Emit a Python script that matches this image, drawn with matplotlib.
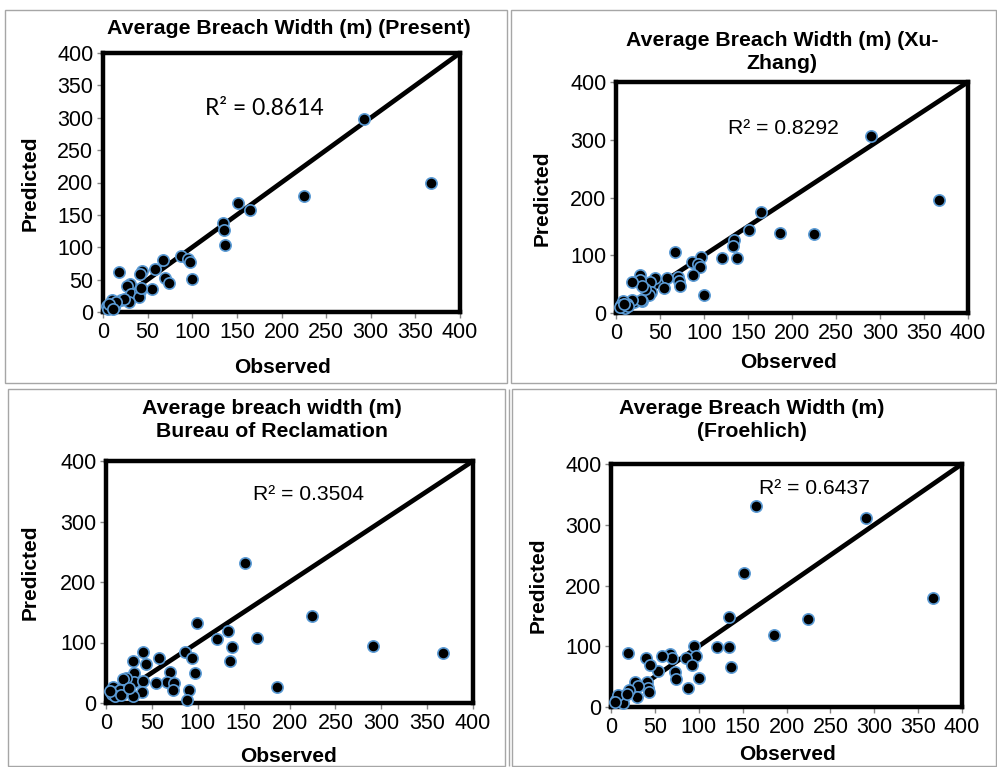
import matplotlib
matplotlib.use("Agg")
import matplotlib.pyplot as plt
from matplotlib.patches import Rectangle

plt.rcParams['font.family'] = ['Liberation Sans', 'DejaVu Sans']

# ---------------- data ----------------
obs_present = [292, 367, 225, 151, 165, 134, 136, 137, 87, 95, 98, 100, 67, 70, 74, 58, 44, 41, 55, 18,
               30, 27, 31, 41, 40, 43, 29, 20, 23, 10, 13, 4, 8, 12, 6, 15, 7, 11]
pred_present = [298, 199, 179, 169, 158, 137, 126, 104, 87, 82, 77, 51, 80, 53, 45, 67, 64, 58, 35, 62,
                44, 40, 28, 32, 23, 37, 15, 18, 20, 19, 12, 10, 8, 7, 5, 15, 12, 4]

obs_xu = [290, 367, 165, 151, 186, 225, 134, 133, 137, 120, 67, 97, 86, 93, 95, 88, 100, 70, 72, 73, 58,
          55, 44, 39, 40, 37, 33, 27, 27, 29, 18, 29, 20, 28, 18, 12, 8, 6, 10, 5, 14, 9]
pred_xu = [306, 195, 175, 143, 138, 137, 127, 116, 95, 95, 106, 97, 89, 84, 80, 65, 32, 62, 55, 47, 61,
           43, 60, 54, 36, 31, 42, 65, 57, 47, 54, 20, 19, 22, 22, 16, 20, 13, 8, 10, 12, 15]

obs_usbr = [151, 225, 291, 367, 186, 165, 99, 121, 133, 137, 135, 86, 94, 97, 91, 88, 58, 70, 67, 74, 73,
            54, 40, 44, 29, 30, 30, 40, 39, 29, 22, 18, 20, 8, 6, 12, 15, 10, 16, 4, 25]
pred_usbr = [232, 144, 94, 83, 26, 108, 133, 106, 119, 92, 70, 84, 74, 49, 21, 5, 74, 51, 35, 33, 22,
             33, 84, 65, 69, 49, 35, 36, 19, 11, 42, 40, 21, 26, 15, 18, 21, 12, 14, 20, 25]

obs_fro = [165, 291, 367, 151, 225, 186, 134, 121, 135, 137, 95, 97, 86, 92, 100, 88, 67, 70, 58, 73, 74,
           54, 19, 40, 44, 41, 42, 43, 27, 31, 30, 20, 16, 10, 6, 12, 14, 8, 18, 4]
pred_fro = [331, 311, 180, 220, 145, 118, 148, 98, 98, 66, 100, 84, 80, 69, 47, 31, 88, 81, 84, 57, 46,
            60, 89, 80, 69, 41, 31, 25, 41, 34, 16, 28, 20, 18, 12, 9, 6, 20, 22, 8]

titles = ["Average Breach Width (m) (Present)",
          "Average Breach Width (m) (Xu-\nZhang)",
          "Average breach width (m)\nBureau of Reclamation",
          "Average Breach Width (m)\n(Froehlich)"]
r2_labels = ["R² = 0.8614", "R² = 0.8292", "R² = 0.3504", "R² = 0.6437"]
x_ticks = [0, 50, 100, 150, 200, 250, 300, 350, 400]
y_ticks_fine = [0, 50, 100, 150, 200, 250, 300, 350, 400]
y_ticks_coarse = [0, 100, 200, 300, 400]
line_xy = [0, 400]

# ---------------- layout (pixels) ----------------
W, H = 997, 767
fig = plt.figure(figsize=(W / 100, H / 100), dpi=100)

def fx(px):
    return px / W

def fy(py):
    return 1 - py / H

# panel boxes (x0, y0, x1, y1) in px
boxes = [(5, 10, 507, 383), (511, 10, 996, 383), (8, 389, 505, 766), (512, 389, 996, 766)]
for (x0, y0, x1, y1) in boxes:
    fig.patches.append(Rectangle((fx(x0), fy(y1)), fx(x1 - x0), (y1 - y0) / H,
                                 transform=fig.transFigure, fill=False,
                                 edgecolor='#a6a6a6', linewidth=1.0, zorder=0))
fig.patches.append(Rectangle((fx(509), fy(766)), 0, (766 - 389) / H, transform=fig.transFigure,
                             fill=False, edgecolor='#a6a6a6', linewidth=1.0))

# axes rectangles in px: x0, x1, ytop, ybottom
ax_px = [(103, 460, 53, 312), (616, 968, 82, 313), (106, 473, 461, 703), (611, 962, 464, 707)]
data = [(obs_present, pred_present), (obs_xu, pred_xu), (obs_usbr, pred_usbr), (obs_fro, pred_fro)]
yticks_list = [y_ticks_fine, y_ticks_coarse, y_ticks_coarse, y_ticks_coarse]
r2_pos = [(114, 314), (127, 320), (160, 344), (169, 359)]
r2_fonts = [['Lato', 'DejaVu Sans'], ['Liberation Sans', 'DejaVu Sans'],
            ['Liberation Sans', 'DejaVu Sans'], ['Liberation Sans', 'DejaVu Sans']]
title_pos = [(289, 28), (782, 52), (272, 420), (752, 420)]
ylab_pos = [(30, 183), (542, 198), (30, 572), (538, 585)]
xlab_pos = [(282, 368), (788, 363), (288, 757), (787, 755)]

for i in range(4):
    x0, x1, yt, yb = ax_px[i]
    ax = fig.add_axes([fx(x0), fy(yb), fx(x1 - x0), (yb - yt) / H])
    ax.set_xlim(0, 400)
    ax.set_ylim(0, 400)
    ox, pr = data[i]
    ax.plot(line_xy, line_xy, color='black', linewidth=3.4, zorder=2, solid_capstyle='butt')
    ax.scatter(ox, pr, s=66, facecolor='black', edgecolor='#5b9bd5', linewidth=1.2, zorder=3,
               clip_on=False)
    ax.set_xticks(x_ticks)
    ax.set_yticks(yticks_list[i])
    ax.tick_params(axis='both', direction='out', length=4, width=1, color='#868686',
                   labelsize=15.5, labelcolor='black', pad=3)
    for s in ax.spines.values():
        s.set_linewidth(3.2)
        s.set_color('black')
    ax.text(r2_pos[i][0], r2_pos[i][1], r2_labels[i], fontsize=16.5 if i == 0 else 15.2,
            family=r2_fonts[i], va='center', ha='left', zorder=4)
    fig.text(fx(title_pos[i][0]), fy(title_pos[i][1]), titles[i], fontsize=15.3, fontweight='bold',
             ha='center', va='center', linespacing=1.3)
    fig.text(fx(ylab_pos[i][0]), fy(ylab_pos[i][1]), "Predicted", fontsize=15, fontweight='bold',
             ha='center', va='center', rotation=90)
    fig.text(fx(xlab_pos[i][0]), fy(xlab_pos[i][1]), "Observed", fontsize=15, fontweight='bold',
             ha='center', va='center')

fig.savefig("out.png", dpi=100)
